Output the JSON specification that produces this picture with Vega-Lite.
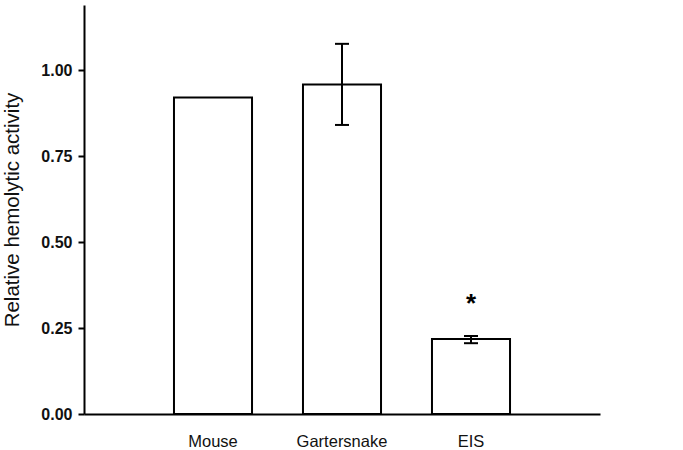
{
  "$schema": "https://vega.github.io/schema/vega-lite/v6.json",
  "autosize": {"type": "none"},
  "padding": {"left": 84, "top": 5, "right": 83, "bottom": 36},
  "width": 516,
  "height": 409,
  "background": "white",
  "config": {
    "view": {"stroke": null},
    "font": "Liberation Sans"
  },
  "data": {
    "values": [
      {"group": "Mouse", "activity": 0.921, "lower": null, "upper": null, "mark": ""},
      {"group": "Gartersnake", "activity": 0.959, "lower": 0.841, "upper": 1.077, "mark": ""},
      {"group": "EIS", "activity": 0.218, "lower": 0.206, "upper": 0.227, "mark": "*"}
    ]
  },
  "encoding": {
    "x": {
      "field": "group",
      "type": "nominal",
      "sort": ["Mouse", "Gartersnake", "EIS"],
      "scale": {"paddingInner": 0.395, "paddingOuter": 0.6975},
      "axis": {
        "title": null,
        "labelAngle": 0,
        "ticks": false,
        "labelPadding": 19,
        "labelFontSize": 16.5,
        "labelColor": "#111",
        "domainColor": "black",
        "domainWidth": 2
      }
    }
  },
  "layer": [
    {
      "mark": {"type": "bar", "fill": "white", "stroke": "black", "strokeWidth": 2},
      "encoding": {
        "y": {
          "field": "activity",
          "type": "quantitative",
          "scale": {"domain": [0, 1.19], "nice": false},
          "axis": {
            "title": "Relative hemolytic activity",
            "titleFontSize": 20.5,
            "titleFontWeight": "normal",
            "titleColor": "#111",
            "titlePadding": 18,
            "values": [0, 0.25, 0.5, 0.75, 1],
            "format": ".2f",
            "labelFontSize": 16,
            "labelFontWeight": "bold",
            "labelColor": "#111",
            "labelPadding": 6,
            "tickSize": 6,
            "tickWidth": 2,
            "tickColor": "black",
            "domainColor": "black",
            "domainWidth": 2,
            "grid": false
          }
        }
      }
    },
    {
      "transform": [{"filter": "datum.upper != null"}],
      "mark": {"type": "rule", "stroke": "black", "strokeWidth": 2},
      "encoding": {
        "y": {"field": "lower", "type": "quantitative"},
        "y2": {"field": "upper"}
      }
    },
    {
      "transform": [{"filter": "datum.upper != null"}],
      "mark": {"type": "tick", "color": "black", "thickness": 2, "size": 14, "opacity": 1},
      "encoding": {
        "y": {"field": "upper", "type": "quantitative"}
      }
    },
    {
      "transform": [{"filter": "datum.upper != null"}],
      "mark": {"type": "tick", "color": "black", "thickness": 2, "size": 14, "opacity": 1},
      "encoding": {
        "y": {"field": "lower", "type": "quantitative"}
      }
    },
    {
      "transform": [{"filter": "datum.mark != ''"}],
      "mark": {"type": "text", "fontSize": 26, "fontWeight": "bold", "baseline": "middle", "dy": -32, "color": "black"},
      "encoding": {
        "y": {"field": "upper", "type": "quantitative"},
        "text": {"field": "mark"}
      }
    }
  ]
}
